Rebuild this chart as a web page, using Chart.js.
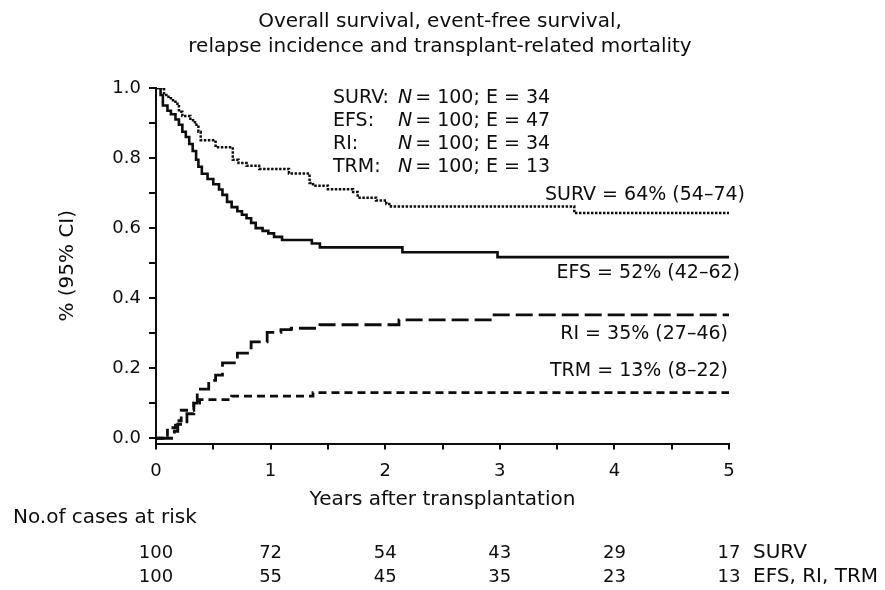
<!DOCTYPE html>
<html>
<head>
<meta charset="utf-8">
<title>Survival after transplantation</title>
<script src="https://cdn.jsdelivr.net/npm/chart.js@4.4.0/dist/chart.umd.min.js"></script>
<style>
html,body{margin:0;padding:0;background:#fff;}
canvas{display:block;}
</style>
</head>
<body>
<canvas id="chart" width="885" height="590"></canvas>
<script>
// step points: time in years, value after the step
const survTimes  = [0, 0.07, 0.09, 0.13, 0.17, 0.20, 0.23, 0.30, 0.34, 0.37, 0.39, 0.52, 0.67, 0.72, 0.79, 0.90, 1.16, 1.34, 1.37, 1.50, 1.72, 1.76, 1.92, 2.01, 2.05, 3.65, 5.0];
const survValues = [1.0, 0.985, 0.975, 0.965, 0.955, 0.932, 0.92, 0.908, 0.895, 0.875, 0.851, 0.831, 0.795, 0.786, 0.778, 0.769, 0.756, 0.729, 0.721, 0.711, 0.703, 0.687, 0.679, 0.669, 0.662, 0.643, 0.643];

const efsTimes  = [0, 0.04, 0.06, 0.10, 0.13, 0.17, 0.20, 0.23, 0.26, 0.29, 0.32, 0.35, 0.37, 0.40, 0.45, 0.50, 0.55, 0.58, 0.62, 0.66, 0.71, 0.75, 0.79, 0.83, 0.87, 0.93, 0.98, 1.03, 1.10, 1.36, 1.43, 2.15, 2.98, 5.0];
const efsValues = [1.0, 0.98, 0.95, 0.935, 0.925, 0.91, 0.895, 0.875, 0.86, 0.84, 0.82, 0.795, 0.775, 0.755, 0.74, 0.725, 0.71, 0.695, 0.675, 0.66, 0.648, 0.638, 0.628, 0.615, 0.60, 0.592, 0.585, 0.575, 0.566, 0.556, 0.545, 0.531, 0.517, 0.517];

const riTimes  = [0, 0.16, 0.19, 0.27, 0.33, 0.36, 0.46, 0.52, 0.58, 0.71, 0.83, 0.97, 1.09, 1.18, 1.43, 2.12, 2.95, 5.0];
const riValues = [0, 0.02, 0.04, 0.07, 0.10, 0.14, 0.165, 0.18, 0.215, 0.243, 0.275, 0.302, 0.31, 0.314, 0.324, 0.338, 0.352, 0.352];

const trmTimes  = [0, 0.10, 0.17, 0.22, 0.33, 0.38, 0.66, 1.37, 5.0];
const trmValues = [0, 0.03, 0.05, 0.08, 0.10, 0.11, 0.12, 0.13, 0.13];

const seriesNames = ['SURV', 'EFS', 'RI', 'TRM'];
const nValues = [100, 100, 100, 100];
const eValues = [34, 47, 34, 13];
const estimates = [64, 52, 35, 13];
const ciLow  = [54, 42, 27, 8];
const ciHigh = [74, 62, 46, 22];

const xTickValues = [0, 0.5, 1, 1.5, 2, 2.5, 3, 3.5, 4, 4.5, 5];
const xTickLabels = ['0', '', '1', '', '2', '', '3', '', '4', '', '5'];
const yTickValues = [0, 0.1, 0.2, 0.3, 0.4, 0.5, 0.6, 0.7, 0.8, 0.9, 1.0];
const yTickLabels = ['0.0', '', '0.2', '', '0.4', '', '0.6', '', '0.8', '', '1.0'];

const riskTimes = [0, 1, 2, 3, 4, 5];
const riskSurv = [100, 72, 54, 43, 29, 17];
const riskEfs  = [100, 55, 45, 35, 23, 13];

const titleLines = ['Overall survival, event-free survival,', 'relapse incidence and transplant-related mortality'];

const ink = '#0d0d0d';
const FONT = '"DejaVu Sans", "Liberation Sans", sans-serif';

function pts(times, values){
  return times.map((t, i) => ({x: t, y: values[i]}));
}

const extraText = {
  id: 'extraText',
  afterDraw(chart){
    const ctx = chart.ctx;
    const xs = chart.scales.x;
    ctx.save();
    ctx.fillStyle = ink;
    ctx.textBaseline = 'middle';

    // heading
    ctx.font = '20px ' + FONT;
    ctx.textAlign = 'center';
    titleLines.forEach((t, i) => ctx.fillText(t, 440, 22 + i * 25));

    // N / E block
    ctx.textAlign = 'left';
    seriesNames.forEach((name, i) => {
      const y = 98 + i * 23;
      ctx.font = '19px ' + FONT;
      ctx.fillText(name + ':', 333, y);
      ctx.font = 'italic 19px ' + FONT;
      ctx.fillText('N', 398, y);
      const w = ctx.measureText('N').width;
      ctx.font = '19px ' + FONT;
      ctx.fillText('= ' + nValues[i] + '; E = ' + eValues[i], 398 + w + 3, y);
    });

    // end-point labels
    const labelRight = [745, 740, 728, 728];
    const labelY = [195, 273, 334, 371];
    ctx.textAlign = 'right';
    ctx.font = '19px ' + FONT;
    seriesNames.forEach((name, i) => {
      ctx.fillText(name + ' = ' + estimates[i] + '% (' + ciLow[i] + '\u2013' + ciHigh[i] + ')', labelRight[i], labelY[i]);
    });

    // numbers at risk
    ctx.textAlign = 'left';
    ctx.font = '20px ' + FONT;
    ctx.fillText('No.of cases at risk', 13, 518);
    ctx.fillText('SURV', 753, 553);
    ctx.fillText('EFS, RI, TRM', 753, 577);
    ctx.textAlign = 'center';
    ctx.font = '18px ' + FONT;
    riskTimes.forEach((t, i) => {
      const px = xs.getPixelForValue(t);
      ctx.fillText(String(riskSurv[i]), px, 553);
      ctx.fillText(String(riskEfs[i]), px, 577);
    });
    ctx.restore();
  }
};

Chart.defaults.font.family = FONT;
Chart.defaults.color = ink;

new Chart(document.getElementById('chart'), {
  type: 'line',
  data: {
    datasets: [
      {label: 'SURV', data: pts(survTimes, survValues), borderColor: ink, borderWidth: 2.5, borderDash: [2.5, 1.5]},
      {label: 'EFS', data: pts(efsTimes, efsValues), borderColor: ink, borderWidth: 2.6},
      {label: 'RI', data: pts(riTimes, riValues), borderColor: ink, borderWidth: 2.8, borderDash: [17, 6]},
      {label: 'TRM', data: pts(trmTimes, trmValues), borderColor: ink, borderWidth: 2.8, borderDash: [8, 5]}
    ]
  },
  options: {
    responsive: false,
    animation: false,
    layout: {padding: {top: 88, right: 156, bottom: 78, left: 0}},
    elements: {
      line: {stepped: 'before', fill: false, borderCapStyle: 'butt'},
      point: {radius: 0, hoverRadius: 0}
    },
    plugins: {legend: {display: false}, tooltip: {enabled: false}},
    scales: {
      x: {
        type: 'linear', min: 0, max: 5,
        afterBuildTicks: s => { s.ticks = xTickValues.map(v => ({value: v})); },
        afterFit: s => { s.height = 590 - 443.5 - 78; },
        ticks: {autoSkip: false, maxRotation: 0, padding: 11, font: {size: 18}, color: ink,
          callback: (v, i) => xTickLabels[i]},
        grid: {drawOnChartArea: false, drawTicks: true, tickLength: 6, color: ink, lineWidth: 2},
        border: {display: true, color: ink, width: 2},
        title: {display: true, text: 'Years after transplantation', font: {size: 20}, color: ink, padding: {top: 0, bottom: 0}}
      },
      y: {
        type: 'linear', min: -0.015, max: 1.0,
        afterBuildTicks: s => { s.ticks = yTickValues.map(v => ({value: v})); },
        afterFit: s => { s.width = 156; },
        ticks: {autoSkip: false, padding: 8, font: {size: 18}, color: ink,
          callback: (v, i) => yTickLabels[i]},
        grid: {drawOnChartArea: false, drawTicks: true, tickLength: 7, color: ink, lineWidth: 2},
        border: {display: true, color: ink, width: 2},
        title: {display: true, text: '% (95% CI)', font: {size: 20}, color: ink, padding: {top: 56, bottom: 0}}
      }
    }
  },
  plugins: [extraText]
});
</script>
</body>
</html>
